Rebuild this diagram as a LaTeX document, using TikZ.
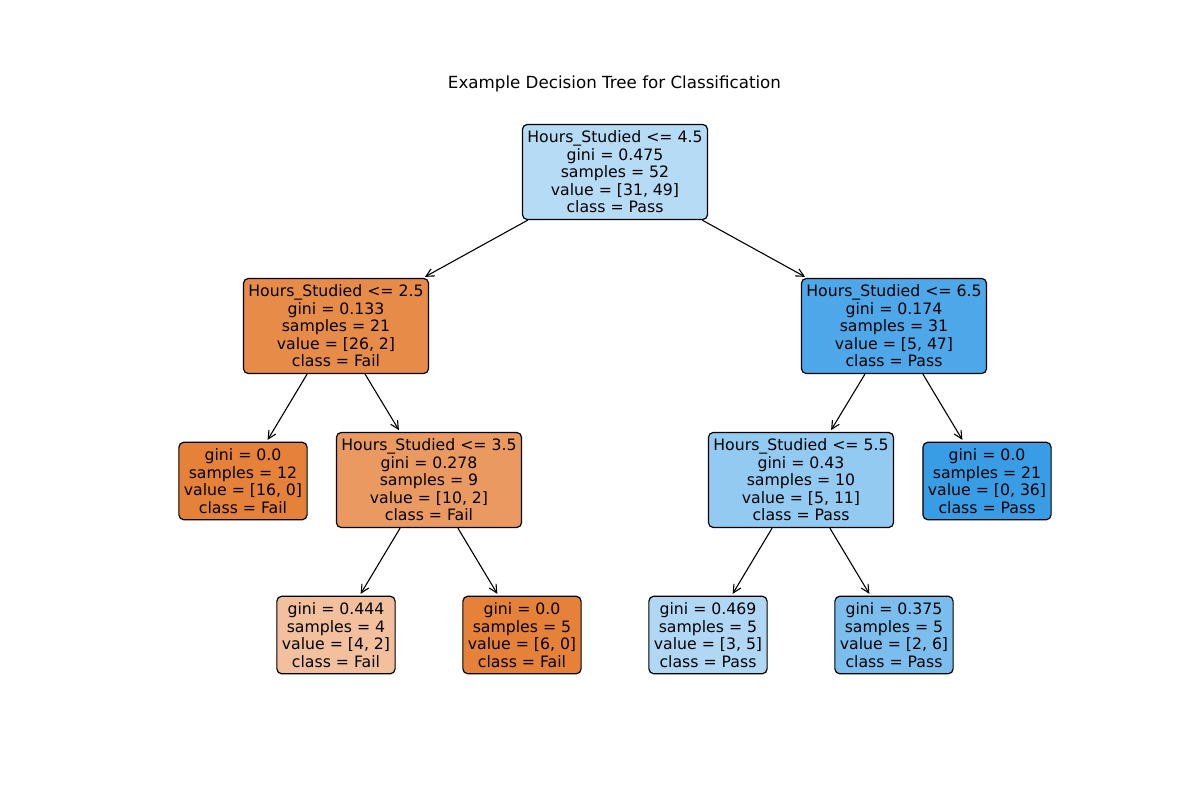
\documentclass[tikz,border=0pt]{standalone}
\usepackage{fontspec}
\setmainfont{DejaVu Sans}
\usetikzlibrary{arrows.meta}
\definecolor{cRoot}{RGB}{182,219,245}
\definecolor{cLA}{RGB}{231,139,72}
\definecolor{cRA}{RGB}{78,167,232}
\definecolor{cFull}{RGB}{229,129,57}
\definecolor{cLB}{RGB}{234,154,97}
\definecolor{cRB}{RGB}{147,202,241}
\definecolor{cBlue}{RGB}{57,157,229}
\definecolor{cLC}{RGB}{242,192,156}
\definecolor{cRC}{RGB}{176,216,245}
\definecolor{cRD}{RGB}{123,190,238}
\tikzset{
  treebox/.style={draw=black, line width=1.2pt, rounded corners=5pt, align=center,
    inner xsep=5pt, inner ysep=6.5pt,
    font=\fontsize{15.7}{17.5}\selectfont},
  edge/.style={-{Straight Barb[length=8pt,width=8pt,line width=1.1pt]}, line width=1.1pt, shorten >=2pt}
}
\begin{document}
\begin{tikzpicture}[x=1pt,y=-1pt]
\useasboundingbox (0,0) rectangle (1200,800);
\node[font=\fontsize{16.7}{20}\selectfont] (title) at (614.5,84) {Example Decision Tree for Classification};
\node[treebox, fill=cRoot] (root) at (615,172) {Hours\_Studied <= 4.5\\gini = 0.475\\samples = 52\\value = [31, 49]\\class = Pass};
\node[treebox, fill=cLA] (la) at (336,326) {Hours\_Studied <= 2.5\\gini = 0.133\\samples = 21\\value = [26, 2]\\class = Fail};
\node[treebox, fill=cRA] (ra) at (894,326) {Hours\_Studied <= 6.5\\gini = 0.174\\samples = 31\\value = [5, 47]\\class = Pass};
\node[treebox, fill=cFull] (lal) at (243,481) {gini = 0.0\\samples = 12\\value = [16, 0]\\class = Fail};
\node[treebox, fill=cLB] (lar) at (429,480) {Hours\_Studied <= 3.5\\gini = 0.278\\samples = 9\\value = [10, 2]\\class = Fail};
\node[treebox, fill=cRB] (ral) at (801,480) {Hours\_Studied <= 5.5\\gini = 0.43\\samples = 10\\value = [5, 11]\\class = Pass};
\node[treebox, fill=cBlue] (rar) at (987,481) {gini = 0.0\\samples = 21\\value = [0, 36]\\class = Pass};
\node[treebox, fill=cLC] (larl) at (336,635) {gini = 0.444\\samples = 4\\value = [4, 2]\\class = Fail};
\node[treebox, fill=cFull] (larr) at (522,635) {gini = 0.0\\samples = 5\\value = [6, 0]\\class = Fail};
\node[treebox, fill=cRC] (rall) at (708,635) {gini = 0.469\\samples = 5\\value = [3, 5]\\class = Pass};
\node[treebox, fill=cRD] (ralr) at (894,635) {gini = 0.375\\samples = 5\\value = [2, 6]\\class = Pass};
\draw[edge] (root) -- (la);
\draw[edge] (root) -- (ra);
\draw[edge] (la) -- (lal);
\draw[edge] (la) -- (lar);
\draw[edge] (ra) -- (ral);
\draw[edge] (ra) -- (rar);
\draw[edge] (lar) -- (larl);
\draw[edge] (lar) -- (larr);
\draw[edge] (ral) -- (rall);
\draw[edge] (ral) -- (ralr);
\end{tikzpicture}
\end{document}
